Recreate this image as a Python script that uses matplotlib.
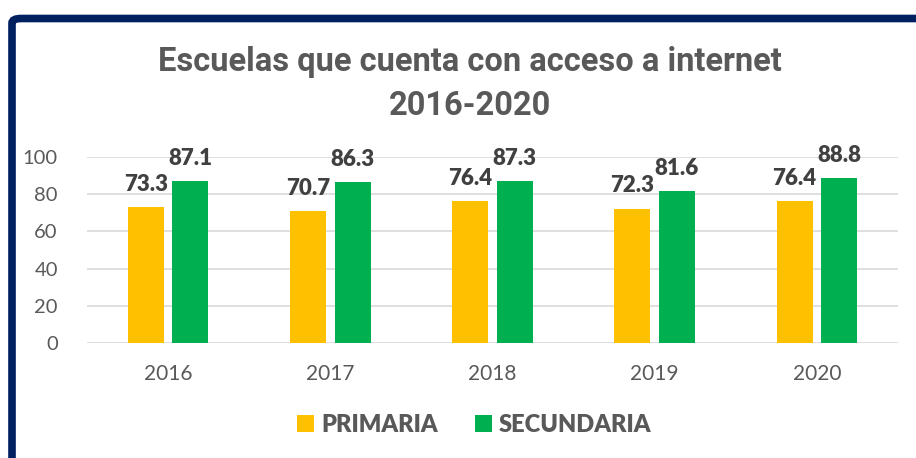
import numpy as np
import matplotlib.pyplot as plt
from matplotlib.patches import FancyBboxPatch

years = ['2016', '2017', '2018', '2019', '2020']
primaria = [73.3, 70.7, 76.4, 72.3, 76.4]
secundaria = [87.1, 86.3, 87.3, 81.6, 88.8]

c_prim = '#FFC000'
c_sec = '#00B050'
txt = '#595959'
lab = '#404040'
body_font = ['Lato', 'DejaVu Sans']

fig = plt.figure(figsize=(9.16, 4.58), dpi=100)

# navy frame (left and top only visible)
fig.patches.append(FancyBboxPatch((12 / 916, -0.2), 1.2, 1.2 - 18.5 / 458,
                                  boxstyle='round,pad=0,rounding_size=0.01',
                                  transform=fig.transFigure, fill=False,
                                  edgecolor='#002060', linewidth=5.5))

ax = fig.add_axes([87 / 916, 1 - 343 / 458, 811 / 916, 186 / 458])
x = np.arange(len(years))
w = 0.222
off = 0.137
b1 = ax.bar(x - off, primaria, w, color=c_prim, label='PRIMARIA', zorder=3)
b2 = ax.bar(x + off, secundaria, w, color=c_sec, label='SECUNDARIA', zorder=3)

for bars, vals in ((b1, primaria), (b2, secundaria)):
    for r, v in zip(bars, vals):
        ax.text(r.get_x() + r.get_width() / 2, v + 6.5, f'{v:.1f}',
                ha='center', va='bottom', fontsize=16, fontweight='heavy',
                color=lab, family=body_font, zorder=4)

ax.set_xlim(-0.5, 4.5)
ax.set_ylim(0, 100)
ax.set_yticks(range(0, 101, 20))
ax.set_xticks(x)
ax.set_xticklabels(years)
ax.yaxis.grid(True, color='#D9D9D9', linewidth=1.2, zorder=0)
for s in ax.spines.values():
    s.set_visible(False)
ax.tick_params(length=0, labelsize=14.5, labelcolor=txt)
ax.tick_params(axis='y', pad=21)
ax.tick_params(axis='x', pad=15, labelsize=15)
for t in ax.get_xticklabels() + ax.get_yticklabels():
    t.set_family(body_font)

fig.text(0.513, 1 - 84 / 458, 'Escuelas que cuenta con acceso a internet\n2016-2020',
         ha='center', va='center', fontsize=23.5, fontweight='bold', color=txt,
         family=['Roboto', 'DejaVu Sans'], linespacing=1.5)

leg = fig.legend(handles=[b1, b2], loc='center', bbox_to_anchor=(0.518, 1 - 425 / 458),
                 ncol=2, frameon=False, handlelength=0.7, handleheight=0.7,
                 handletextpad=0.3, columnspacing=1.6,
                 prop={'family': body_font, 'weight': 'heavy', 'size': 17})
for t in leg.get_texts():
    t.set_color(txt)
    t.set_fontweight('heavy')

fig.savefig('out.png', dpi=100, facecolor='white')
